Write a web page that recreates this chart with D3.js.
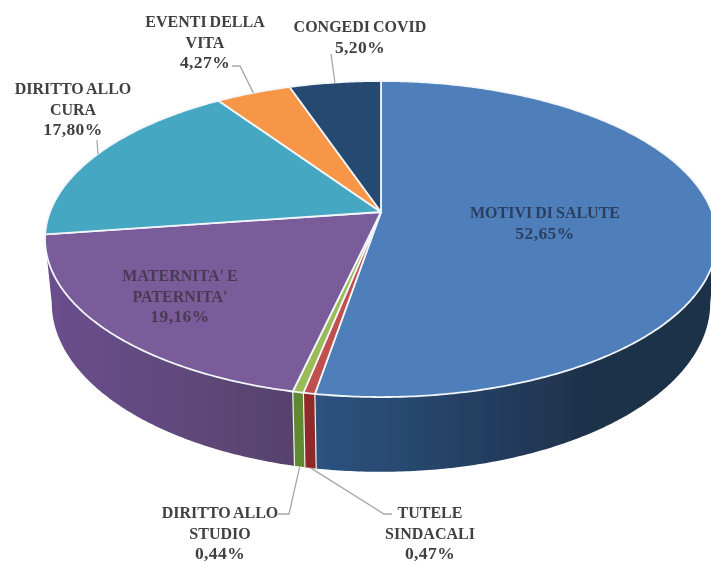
<!DOCTYPE html>
<html lang="it">
<head>
    <meta charset="UTF-8">
    <title>Permessi per motivo</title>
    <script src="https://d3js.org/d3.v7.min.js"></script>
    <style>
        html, body { margin: 0; padding: 0; background: #fff; }
        svg { display: block; }
        .label { font-family: "Liberation Serif", serif; font-weight: bold; font-size: 16px; text-anchor: middle; word-spacing: -1px; }
        .label .num { font-size: 17.5px; letter-spacing: 0.4px; }
        .leader { fill: none; stroke: #a6a6a6; stroke-width: 1.3px; }
    </style>
</head>
<body>
    <svg width="711" height="562"></svg>

    <script>
      // data, clockwise from 12 o'clock
      const categories = ["MOTIVI DI SALUTE", "TUTELE SINDACALI", "DIRITTO ALLO STUDIO", "MATERNITA' E PATERNITA'", "DIRITTO ALLO CURA", "EVENTI DELLA VITA", "CONGEDI COVID"];
      const values = [52.65, 0.47, 0.44, 19.16, 17.80, 4.27, 5.20];
      const valueLabels = ["52,65%", "0,47%", "0,44%", "19,16%", "17,80%", "4,27%", "5,20%"];
      const labelLines = [
          ["MOTIVI DI SALUTE"],
          ["TUTELE", "SINDACALI"],
          ["DIRITTO ALLO", "STUDIO"],
          ["MATERNITA' E", "PATERNITA'"],
          ["DIRITTO ALLO", "CURA"],
          ["EVENTI DELLA", "VITA"],
          ["CONGEDI COVID"]
      ];

      // styles and layout
      const topColors = ["#4f7fba", "#c0504d", "#9bbb59", "#7a5b9b", "#45a7c1", "#f79646", "#264a72"];
      const sideColors = [["#2d5380", "#1e3049"], ["#8f2b29", "#8f2b29"], ["#5f8a32", "#5f8a32"], ["#6b4f8e", "#56426b"]];
      const textColors = ["#2b3f5e", "#404040", "#404040", "#4a3a52", "#404040", "#404040", "#404040"];
      const labelPos = [[545, 218], [430, 518], [220, 518], [180, 281], [73, 94], [205, 27], [360, 32]];
      const lineHeight = 20.5;

      const svg = d3.select("svg");

      // perspective disc: far edge shrinks, near edge grows
      const cx = 381, cy = 212, A = 331, B = 153.4, k = 0.171, depth = 62, lowerShrink = 0.98;
      const scaleAt = a => 1 / (1 + k * Math.cos(a));
      const project = (a, drop = 0) => {
          const s = scaleAt(a);
          const xs = drop ? lowerShrink : 1;
          return [cx + A * Math.sin(a) * s * xs, cy - B * Math.cos(a) * s + drop * s];
      };

      const pie = d3.pie().sort(null).value(d => d)(values);
      const line = d3.line();
      const arcPoints = (a0, a1, drop = 0) => {
          const n = Math.max(2, Math.ceil((a1 - a0) / 0.01));
          return d3.range(n + 1).map(i => project(a0 + (a1 - a0) * i / n, drop));
      };

      // silhouette angles of the projected disc
      const rightEdge = Math.acos(-k), leftEdge = 2 * Math.PI - rightEdge;

      // gradients for the walls
      const defs = svg.append("defs");
      sideColors.forEach((c, i) => {
          const a0 = Math.max(pie[i].startAngle, rightEdge), a1 = Math.min(pie[i].endAngle, leftEdge);
          const g = defs.append("linearGradient")
              .attr("id", "side" + i)
              .attr("gradientUnits", "userSpaceOnUse")
              .attr("x1", project(a1)[0]).attr("x2", i === 0 ? 600 : project(a0)[0])
              .attr("y1", 0).attr("y2", 0);
          g.append("stop").attr("offset", 0).attr("stop-color", c[0]);
          g.append("stop").attr("offset", 1).attr("stop-color", c[1]);
      });
      defs.append("filter").attr("id", "soft").append("feGaussianBlur").attr("stdDeviation", 0.35);

      const chart = svg.append("g").attr("filter", "url(#soft)");

      // walls
      const walls = pie.slice(0, 4);
      chart.selectAll(".wall").data(walls).enter().append("path")
          .attr("class", "wall")
          .attr("fill", (d, i) => `url(#side${i})`)
          .attr("d", d => {
              const a0 = Math.max(d.startAngle, rightEdge), a1 = Math.min(d.endAngle, leftEdge);
              return line(arcPoints(a0, a1).concat(arcPoints(a0, a1, depth).reverse())) + "Z";
          });
      // pale dividers between walls
      chart.selectAll(".divider").data(pie.slice(1, 4)).enter().append("path")
          .attr("class", "divider")
          .attr("fill", "none").attr("stroke", "#f4f4e8").attr("stroke-width", 1.2)
          .attr("d", d => line([project(d.startAngle), project(d.startAngle, depth)]));

      // top face
      chart.selectAll(".slice").data(pie).enter().append("path")
          .attr("class", "slice")
          .attr("fill", (d, i) => topColors[i])
          .attr("stroke", "#f2f6fb").attr("stroke-width", 1.8).attr("stroke-linejoin", "round")
          .attr("d", d => line([[cx, cy]].concat(arcPoints(d.startAngle, d.endAngle))) + "Z");

      // leader lines: label end is fixed, slice end follows the slice's mid angle
      const leaders = [
          { i: 1, pts: [[392, 514], [384, 514]], drop: depth },
          { i: 2, pts: [[278, 514], [289, 514]], drop: depth },
          { i: 4, pts: [[97, 140]], drop: 0 },
          { i: 5, pts: [[232, 66], [240, 66]], drop: 0 },
          { i: 6, pts: [[331, 54]], drop: 0 }
      ];
      chart.selectAll(".leader").data(leaders).enter().append("path")
          .attr("class", "leader")
          .attr("d", d => line(d.pts.concat([project((pie[d.i].startAngle + pie[d.i].endAngle) / 2, d.drop)])));

      // labels
      const label = chart.selectAll(".label").data(categories).enter().append("text")
          .attr("class", "label")
          .attr("fill", (d, i) => textColors[i]);
      label.each(function (d, i) {
          const lines = labelLines[i].concat(valueLabels[i]);
          d3.select(this).selectAll("tspan").data(lines).enter().append("tspan")
              .attr("class", (t, j) => j === lines.length - 1 ? "num" : null)
              .attr("x", labelPos[i][0])
              .attr("y", (t, j) => labelPos[i][1] + j * lineHeight)
              .text(t => t);
      });
  </script>
</body>
</html>
